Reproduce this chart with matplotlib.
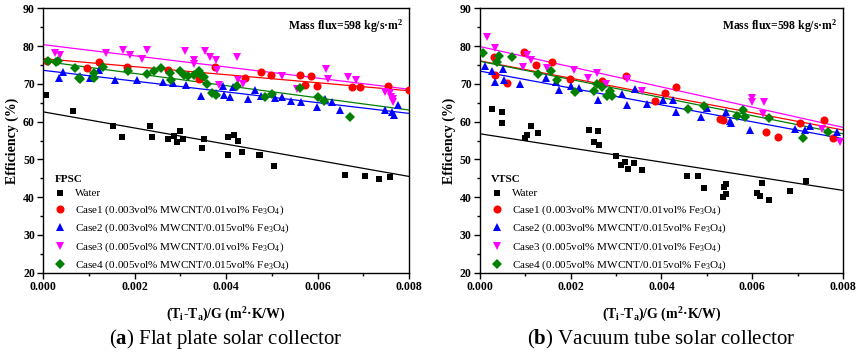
import matplotlib
matplotlib.use('Agg')
import matplotlib.pyplot as plt
from matplotlib.ticker import MultipleLocator, FormatStrFormatter
import numpy as np

plt.rcParams['font.family'] = ['Liberation Serif', 'DejaVu Serif']
plt.rcParams['mathtext.fontset'] = 'custom'
plt.rcParams['mathtext.rm'] = 'Liberation Serif'
plt.rcParams['mathtext.bf'] = 'Liberation Serif:bold'
plt.rcParams['mathtext.default'] = 'regular'

# ---- FPSC data ----
fp_water_x = [0.00005, 0.00066, 0.00152, 0.00172, 0.00234, 0.00238, 0.00272, 0.00286, 0.00293, 0.00299,
              0.00305, 0.00348, 0.00352, 0.00403, 0.00405, 0.00417, 0.00425, 0.00434, 0.00471, 0.00474,
              0.00505, 0.00661, 0.00704, 0.00734, 0.00759]
fp_water_y = [67.2, 62.8, 58.8, 56.0, 58.8, 56.0, 55.3, 56.2, 54.7, 57.6,
              55.3, 53.1, 55.3, 51.3, 56.0, 56.6, 55.0, 52.0, 51.1, 51.1,
              48.3, 46.0, 45.7, 44.7, 45.3]
fp_c1_x = [0.00007, 0.00096, 0.00122, 0.00184, 0.00272, 0.00340, 0.00375, 0.00441, 0.00477, 0.00497,
           0.00561, 0.00573, 0.00586, 0.00599, 0.00675, 0.00692, 0.00753, 0.00800]
fp_c1_y = [76.1, 74.1, 75.7, 74.6, 73.8, 71.4, 74.6, 71.5, 73.1, 72.5,
           72.3, 69.7, 72.1, 69.5, 69.1, 69.1, 69.4, 68.4]
fp_c2_x = [0.00035, 0.00042, 0.00080, 0.00103, 0.00121, 0.00157, 0.00206, 0.00261, 0.00284, 0.00313,
           0.00346, 0.00377, 0.00392, 0.00395, 0.00408, 0.00415, 0.00448, 0.00462, 0.00476, 0.00507,
           0.00522, 0.00541, 0.00563, 0.00598, 0.00617, 0.00632, 0.00648, 0.00748, 0.00763, 0.00767, 0.00776]
fp_c2_y = [71.7, 73.2, 72.1, 71.7, 73.7, 71.0, 71.0, 70.6, 70.3, 69.6,
           66.8, 67.7, 69.4, 67.1, 66.6, 69.1, 66.0, 68.4, 66.9, 66.2,
           66.6, 65.6, 65.3, 64.0, 66.0, 65.1, 63.1, 63.1, 62.6, 61.8, 64.4]
fp_c3_x = [0.00025, 0.00036, 0.00138, 0.00175, 0.00189, 0.00215, 0.00226, 0.00310, 0.00329, 0.00329,
           0.00353, 0.00364, 0.00377, 0.00380, 0.00385, 0.00423, 0.00426, 0.00436, 0.00523, 0.00555,
           0.00619, 0.00623, 0.00667, 0.00683, 0.00747, 0.00758, 0.00761, 0.00764, 0.00765]
fp_c3_y = [78.1, 77.6, 78.1, 79.0, 77.6, 76.5, 79.0, 78.7, 76.3, 75.4,
           78.7, 77.2, 76.3, 73.8, 69.7, 77.2, 71.0, 70.1, 72.1, 68.6,
           73.9, 71.3, 71.9, 71.0, 67.8, 67.5, 66.6, 65.3, 66.0]
fp_c4_x = [0.00010, 0.00028, 0.00033, 0.00069, 0.00080, 0.00078, 0.00111, 0.00111, 0.00131, 0.00186,
           0.00227, 0.00243, 0.00257, 0.00277, 0.00280, 0.00299, 0.00307, 0.00316, 0.00330, 0.00340,
           0.00345, 0.00351, 0.00357, 0.00368, 0.00377, 0.00423, 0.00485, 0.00500, 0.00561, 0.00600,
           0.00613, 0.00670]
fp_c4_y = [76.1, 75.9, 76.2, 74.3, 71.3, 71.6, 73.0, 71.5, 74.4, 73.4,
           72.6, 73.5, 74.3, 73.0, 71.0, 73.4, 72.3, 72.1, 72.3, 73.4,
           72.3, 71.9, 70.0, 67.5, 67.1, 69.4, 66.6, 67.3, 69.0, 66.6,
           65.5, 61.3]
# fit lines: value at x=0 and x=0.008
fp_fit = {'water': (62.6, 45.5), 'c1': (76.7, 68.2), 'c2': (73.6, 62.2),
          'c3': (80.4, 68.6), 'c4': (76.0, 63.1)}

# ---- VTSC data ----
vt_water_x = [0.00027, 0.00049, 0.00049, 0.00099, 0.00103, 0.00113, 0.00128, 0.00241, 0.00251, 0.00261,
              0.00262, 0.00299, 0.00310, 0.00320, 0.00326, 0.00340, 0.00357, 0.00456, 0.00481, 0.00493,
              0.00536, 0.00537, 0.00543, 0.00543, 0.00611, 0.00617, 0.00622, 0.00636, 0.00684, 0.00719]
vt_water_y = [63.3, 62.6, 59.6, 55.7, 56.6, 58.8, 56.9, 57.8, 54.7, 57.6,
              53.7, 50.9, 48.5, 49.4, 47.6, 49.1, 47.3, 45.5, 45.7, 42.4,
              40.0, 42.7, 43.6, 40.9, 41.1, 40.3, 43.7, 39.3, 41.6, 44.2]
vt_c1_x = [0.00031, 0.00033, 0.00060, 0.00098, 0.00123, 0.00159, 0.00198, 0.00269, 0.00321, 0.00385,
           0.00408, 0.00432, 0.00528, 0.00536, 0.00630, 0.00657, 0.00705, 0.00758, 0.00777]
vt_c1_y = [77.2, 72.4, 70.2, 78.5, 75.0, 75.9, 71.4, 70.8, 72.1, 65.5,
           67.6, 69.1, 60.7, 60.4, 57.4, 55.9, 59.7, 60.4, 55.7]
vt_c2_x = [0.00011, 0.00026, 0.00033, 0.00051, 0.00053, 0.00088, 0.00145, 0.00167, 0.00174, 0.00200,
           0.00218, 0.00261, 0.00312, 0.00325, 0.00341, 0.00367, 0.00404, 0.00426, 0.00433, 0.00488,
           0.00500, 0.00542, 0.00551, 0.00553, 0.00595, 0.00694, 0.00716, 0.00727, 0.00787]
vt_c2_y = [74.8, 73.5, 70.6, 73.9, 71.0, 70.0, 71.7, 70.4, 68.4, 69.5,
           68.9, 65.7, 67.3, 64.4, 68.6, 64.7, 65.7, 65.7, 62.6, 61.2,
           63.6, 62.6, 60.1, 59.6, 57.9, 58.0, 57.8, 58.9, 57.2]
vt_c3_x = [0.00015, 0.00033, 0.00095, 0.00103, 0.00112, 0.00147, 0.00207, 0.00238, 0.00257, 0.00277,
           0.00324, 0.00356, 0.00599, 0.00599, 0.00626, 0.00624, 0.00754, 0.00793]
vt_c3_y = [82.4, 79.6, 74.6, 77.6, 76.3, 74.1, 73.6, 71.5, 73.0, 70.1,
           71.3, 68.2, 66.3, 65.1, 65.1, 62.0, 58.1, 54.6]
vt_c4_x = [0.00007, 0.00037, 0.00042, 0.00071, 0.00128, 0.00156, 0.00170, 0.00210, 0.00252, 0.00257,
           0.00270, 0.00279, 0.00286, 0.00292, 0.00459, 0.00494, 0.00567, 0.00580, 0.00584, 0.00637,
           0.00711, 0.00767]
vt_c4_y = [78.1, 75.9, 77.4, 77.2, 72.6, 73.3, 71.0, 67.9, 68.2, 70.1,
           69.2, 66.8, 68.0, 66.8, 63.4, 64.2, 61.6, 63.2, 61.3, 60.9,
           55.7, 57.4]
vt_fit = {'water': (56.8, 41.8), 'c1': (76.1, 57.8), 'c2': (73.4, 55.5),
          'c3': (79.9, 58.5), 'c4': (76.0, 56.8)}

labels = ['Water',
          'Case1 (0.003vol% MWCNT/0.01vol% Fe$_3$O$_4$)',
          'Case2 (0.003vol% MWCNT/0.015vol% Fe$_3$O$_4$)',
          'Case3 (0.005vol% MWCNT/0.01vol% Fe$_3$O$_4$)',
          'Case4 (0.005vol% MWCNT/0.015vol% Fe$_3$O$_4$)']
keys = ['water', 'c1', 'c2', 'c3', 'c4']
colors = ['black', '#ff0000', '#0000ff', '#ff00ff', '#008000']
markers = ['s', 'o', '^', 'v', 'D']
msizes = [5, 5.8, 6, 6, 5]

fig = plt.figure(figsize=(8.58, 3.52), dpi=100)
ax1 = fig.add_axes([0.0505, 0.2253, 0.4262, 0.7507])
ax2 = fig.add_axes([0.5594, 0.2253, 0.4231, 0.7507])

panels = [
    (ax1, [(fp_water_x, fp_water_y), (fp_c1_x, fp_c1_y), (fp_c2_x, fp_c2_y), (fp_c3_x, fp_c3_y), (fp_c4_x, fp_c4_y)],
     fp_fit, 'FPSC', 'Flat plate solar collector', 'a'),
    (ax2, [(vt_water_x, vt_water_y), (vt_c1_x, vt_c1_y), (vt_c2_x, vt_c2_y), (vt_c3_x, vt_c3_y), (vt_c4_x, vt_c4_y)],
     vt_fit, 'VTSC', 'Vacuum tube solar collector', 'b'),
]

for ax, series, fits, title, caption, letter in panels:
    handles = []
    for (xs, ys), k, c, m, ms, lab in zip(series, keys, colors, markers, msizes, labels):
        h, = ax.plot(xs, ys, linestyle='none', marker=m, color=c, markersize=ms,
                     markeredgewidth=0, label=lab, zorder=3)
        handles.append(h)
        a, b = fits[k]
        ax.plot([0, 0.008], [a, b], color=c, lw=0.9, zorder=2)
    ax.set_xlim(0, 0.008)
    ax.set_ylim(20, 90)
    ax.xaxis.set_major_locator(MultipleLocator(0.002))
    ax.xaxis.set_minor_locator(MultipleLocator(0.001))
    ax.xaxis.set_major_formatter(FormatStrFormatter('%.3f'))
    ax.yaxis.set_major_locator(MultipleLocator(10))
    ax.yaxis.set_minor_locator(MultipleLocator(5))
    ax.tick_params(which='major', direction='out', length=4, width=1, labelsize=8.5, pad=2)
    ax.tick_params(which='minor', direction='out', length=2.5, width=1)
    for lbl in ax.get_xticklabels() + ax.get_yticklabels():
        lbl.set_fontweight('bold')
    for sp in ax.spines.values():
        sp.set_linewidth(1.0)
    ax.set_ylabel('Efficiency (%)', fontsize=10, fontweight='bold', labelpad=3)
    ax.set_xlabel('(T$_i$-T$_a$)/G (m$^2$·K/W)', fontsize=10, fontweight='bold', labelpad=9)
    ax.text(0.985, 0.965, 'Mass flux=598 kg/s·m$^2$', transform=ax.transAxes,
            ha='right', va='top', fontsize=8.5, fontweight='bold')
    leg = ax.legend(handles=handles, loc='lower left', frameon=False, fontsize=8,
                    title=title, title_fontproperties={'weight': 'bold', 'size': 8},
                    borderaxespad=0.1, handletextpad=0.9, labelspacing=0.45,
                    handlelength=1.0, bbox_to_anchor=(0.015, -0.02))
    leg._legend_box.align = 'left'
    pos = ax.get_position()
    fig.text((pos.x0 + pos.x1) / 2, 0.022, '(' + r'$\mathbf{' + letter + '}$' + ') ' + caption,
             ha='center', va='baseline', fontsize=15)

fig.savefig('out.png', dpi=100)
